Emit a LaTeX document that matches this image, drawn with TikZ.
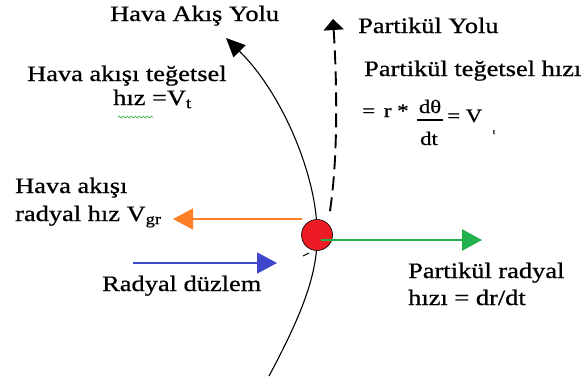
\documentclass[tikz,border=0pt]{standalone}
\usepackage{fontspec}
\setmainfont[FakeStretch=1.2,FakeBold=0.8]{Liberation Serif}
\usetikzlibrary{arrows.meta,decorations.pathmorphing}
\definecolor{pred}{RGB}{237,28,36}
\definecolor{porange}{RGB}{255,127,39}
\definecolor{pblue}{RGB}{63,72,204}
\definecolor{pgreen}{RGB}{34,177,76}
\definecolor{spell}{RGB}{60,170,60}
\begin{document}
\begin{tikzpicture}[x=1pt,y=-1pt,
  lbl/.style={anchor=base west,inner sep=0pt,font=\fontsize{22}{26}\selectfont},
  eqlbl/.style={inner sep=0pt,font=\fontsize{19}{22}\selectfont},
  flowline/.style={line width=1.1pt,-{Triangle[length=19pt,width=17pt]}},
  partline/.style={line width=1.9pt,dash pattern=on 14pt off 7pt,{Triangle[length=11pt,width=20pt]}-},
  vec/.style={line width=1.6pt,-{Triangle[length=20pt,width=21pt]}}]
\useasboundingbox (0,0) rectangle (585,383);
% coordinates
\coordinate (pc) at (317,235);
\coordinate (cb) at (269,376);
\coordinate (ct) at (226,38);
\coordinate (ds) at (329,217);
\coordinate (dtip) at (333,19);
\coordinate (os) at (302,219);
\coordinate (oe) at (173,219);
\coordinate (bs) at (133,263);
\coordinate (be) at (277,263);
\coordinate (gs) at (321,240);
\coordinate (ge) at (482,240);
% air flow path
\draw[flowline] (cb) .. controls (300,318) and (318,275) .. (pc)
   .. controls (318,180) and (284,95) .. (ct);
% particle path
\draw[partline] (dtip) .. controls (338,100) and (337,170) .. (ds);
% particle
\node[circle,fill=pred,draw=black,line width=0.6pt,minimum size=31pt,inner sep=0pt] (p) at (pc) {};
\draw[line width=1pt] (303,256) -- (309,253);
% velocity arrows
\draw[vec,porange] (os) -- (oe);
\draw[vec,pblue] (bs) -- (be);
\draw[vec,pgreen,line width=2.2pt] (gs) -- (ge);
% labels
\node[lbl] (t1) at (110,21) {Hava Akış Yolu};
\node[lbl] (t2) at (27,81) {Hava akışı teğetsel};
\node[lbl] (t3) at (113,105) {hız =V\textsubscript{t}};
\draw[spell,line width=0.7pt,decorate,decoration={snake,amplitude=1pt,segment length=4pt}] (118,117) -- (153,117);
\node[lbl] (t4) at (358,33) {Partikül Yolu};
\node[lbl] (t5) at (364,76) {Partikül teğetsel hızı};
\node[eqlbl,anchor=base west] (e1) at (362,117) {= \,r *};
\node[eqlbl,anchor=base] (e2) at (430,113) {dθ};
\node[eqlbl,anchor=base] (e3) at (429,145) {dt};
\fill[black] (417,119.2) rectangle (443,120.6);
\node[eqlbl,anchor=base west] (e4) at (447,122) {= V};
\node[inner sep=0pt,font=\fontsize{7}{8}\selectfont,anchor=base] (e5) at (494,134) {t};
\node[lbl] (t6) at (15,193) {Hava akışı};
\node[lbl] (t7) at (15,221) {radyal hız V\textsubscript{gr}};
\node[lbl] (t8) at (102,291) {Radyal düzlem};
\node[lbl] (t9) at (408,278) {Partikül radyal};
\node[lbl] (t10) at (408,305) {hızı = dr/dt};
\end{tikzpicture}
\end{document}
